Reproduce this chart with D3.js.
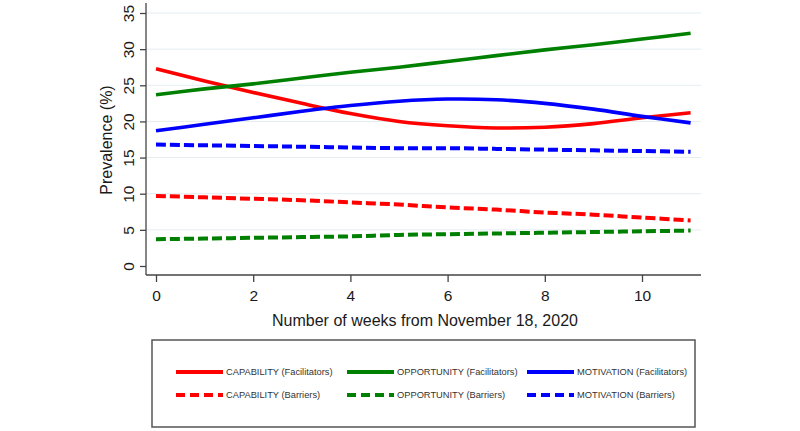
<!DOCTYPE html>
<html>
<head>
<meta charset="utf-8">
<script src="https://cdn.jsdelivr.net/npm/d3@7"></script>
<style>
  body { margin: 0; background: #fff; }
  svg { display: block; font-family: "Liberation Sans", Arial, sans-serif; }
</style>
</head>
<body>
<svg width="800" height="431"></svg>
<script>
// weeks from November 18, 2020
const weeks = [0, 1, 2, 3, 4, 5, 6, 7, 8, 9, 10, 11];
const capabilityFac = [27.3, 25.6, 24.0, 22.5, 21.1, 20.0, 19.4, 19.1, 19.2, 19.7, 20.5, 21.2];
const opportunityFac = [23.7, 24.5, 25.2, 26.0, 26.8, 27.5, 28.3, 29.1, 29.9, 30.6, 31.4, 32.2];
const motivationFac = [18.7, 19.6, 20.5, 21.4, 22.2, 22.8, 23.1, 23.0, 22.5, 21.7, 20.7, 19.8];
const capabilityBar = [9.7, 9.5, 9.3, 9.1, 8.8, 8.5, 8.1, 7.8, 7.4, 7.1, 6.7, 6.3];
const opportunityBar = [3.7, 3.8, 3.9, 4.0, 4.1, 4.3, 4.4, 4.5, 4.6, 4.7, 4.8, 4.9];
const motivationBar = [16.8, 16.7, 16.6, 16.5, 16.4, 16.3, 16.3, 16.2, 16.1, 16.0, 15.9, 15.8];
const xTicks = [0, 2, 4, 6, 8, 10];
const yTicks = [0, 5, 10, 15, 20, 25, 30, 35];

const series = [
  {name: 'CAPABILITY (Facilitators)', values: capabilityFac, color: '#ff0000', dash: null},
  {name: 'OPPORTUNITY (Facilitators)', values: opportunityFac, color: '#008000', dash: null},
  {name: 'MOTIVATION (Facilitators)', values: motivationFac, color: '#0000ff', dash: null},
  {name: 'CAPABILITY (Barriers)', values: capabilityBar, color: '#ff0000', dash: '10,4'},
  {name: 'OPPORTUNITY (Barriers)', values: opportunityBar, color: '#008000', dash: '10,4'},
  {name: 'MOTIVATION (Barriers)', values: motivationBar, color: '#0000ff', dash: '10,4'}
];

const svg = d3.select('svg');
const x = d3.scaleLinear().domain([0, 10]).range([156, 642]);
const y = d3.scaleLinear().domain([0, 35]).range([266, 13]);
const plotLeft = 146, plotRight = 701, plotBottom = 275, plotTop = 3;

// gridlines
svg.append('g')
  .selectAll('line')
  .data(yTicks.filter(d => d > 0))
  .enter()
  .append('line')
  .attr('x1', plotLeft).attr('x2', plotRight)
  .attr('y1', d => y(d)).attr('y2', d => y(d))
  .attr('stroke', '#e4edf1').attr('stroke-width', 1);

// y axis
const yAxis = svg.append('g')
  .attr('transform', 'translate(' + plotLeft + ',0)')
  .call(d3.axisLeft(y).tickValues(yTicks).tickSize(6).tickPadding(10).tickSizeOuter(0));
yAxis.select('.domain').attr('d', 'M0,' + plotTop + 'V' + plotBottom);
yAxis.selectAll('.tick text')
  .attr('transform', 'rotate(-90)')
  .attr('x', 0).attr('dy', '0.35em')
  .attr('y', -17)
  .attr('text-anchor', 'middle')
  .style('font-size', '15.5px');

// x axis
const xAxis = svg.append('g')
  .attr('transform', 'translate(0,' + plotBottom + ')')
  .call(d3.axisBottom(x).tickValues(xTicks).tickSize(7).tickPadding(8).tickSizeOuter(0));
xAxis.select('.domain').attr('d', 'M' + plotLeft + ',0H' + plotRight);
xAxis.selectAll('.tick text').style('font-size', '15.5px');

svg.selectAll('.domain, .tick line').attr('stroke', '#444').attr('stroke-width', 1.3);
svg.selectAll('.tick text').attr('fill', '#1a1a1a').style('font-family', '"Liberation Sans", Arial, sans-serif');

// titles
svg.append('text')
  .attr('x', 425).attr('y', 326)
  .attr('text-anchor', 'middle')
  .attr('fill', '#1a1a1a')
  .style('font-size', '16px')
  .text('Number of weeks from November 18, 2020');
svg.append('text')
  .attr('transform', 'translate(112,140) rotate(-90)')
  .attr('text-anchor', 'middle')
  .attr('fill', '#1a1a1a')
  .style('font-size', '16px')
  .text('Prevalence (%)');

// lines
const line = d3.line()
  .x((d, i) => x(weeks[i]))
  .y(d => y(d))
  .curve(d3.curveCatmullRom);

svg.append('g')
  .selectAll('path')
  .data(series)
  .enter()
  .append('path')
  .attr('d', d => line(d.values))
  .attr('fill', 'none')
  .attr('stroke', d => d.color)
  .attr('stroke-width', d => d.dash ? 4 : 3.6)
  .attr('stroke-dasharray', d => d.dash);

// legend
svg.append('rect')
  .attr('x', 152).attr('y', 340)
  .attr('width', 543).attr('height', 87)
  .attr('fill', '#fff')
  .attr('stroke', '#555').attr('stroke-width', 1.5);

const colX = [176, 347, 527];
const rowY = [372, 395];
const leg = svg.append('g')
  .selectAll('g')
  .data(series)
  .enter()
  .append('g')
  .attr('transform', (d, i) => 'translate(' + colX[i % 3] + ',' + rowY[Math.floor(i / 3)] + ')');
leg.append('line')
  .attr('x1', 0).attr('x2', 47)
  .attr('stroke', d => d.color)
  .attr('stroke-width', 4.2)
  .attr('stroke-dasharray', d => d.dash ? '9,5' : null);
leg.append('text')
  .attr('x', 50).attr('dy', '0.35em')
  .attr('fill', '#333')
  .style('font-size', '9.3px')
  .text(d => d.name);
</script>
</body>
</html>
